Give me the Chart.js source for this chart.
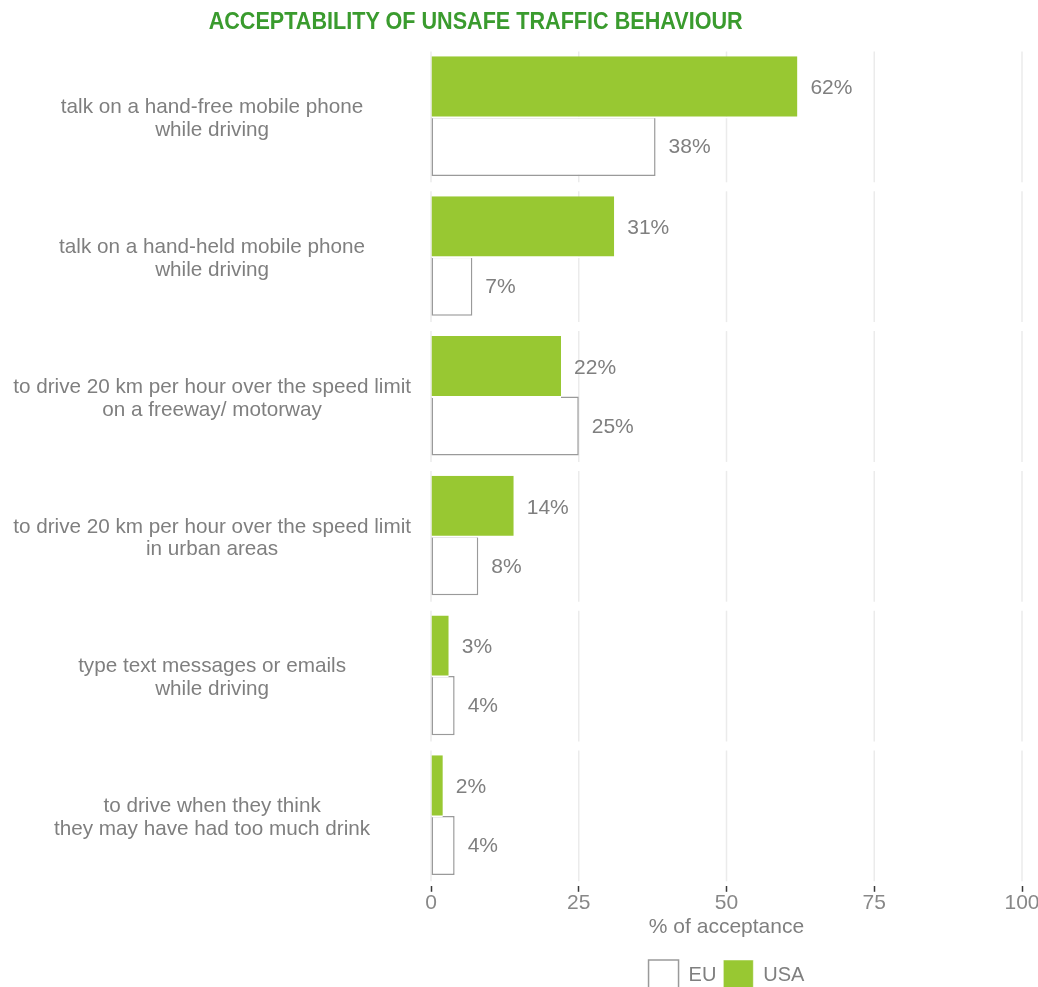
<!DOCTYPE html>
<html>
<head>
<meta charset="utf-8">
<script src="https://cdn.jsdelivr.net/npm/chart.js@4.4.1/dist/chart.umd.min.js"></script>
<style>
  html, body { margin: 0; padding: 0; background: #ffffff; overflow: hidden; }
  #wrap { position: absolute; left: 0; top: 0; width: 1060px; height: 1000px; }
  #title {
    position: absolute; left: 0; top: 7px; width: 952px; text-align: center;
    z-index: 2; white-space: nowrap;
  }
  #title span {
    display: inline-block;
    font-family: "Liberation Sans", Arial, sans-serif;
    font-weight: bold; font-size: 24px; color: #3a9b2e;
    transform: scaleX(0.9); transform-origin: center;
  }
</style>
</head>
<body>
<div id="wrap">
  <canvas id="c" width="1060" height="1000"></canvas>
</div>
<div id="title"><span>ACCEPTABILITY OF UNSAFE TRAFFIC BEHAVIOUR</span></div>
<script>
// Behaviours surveyed (multi-line labels)
const behaviours = [
  ["talk on a hand-free mobile phone", "while driving"],
  ["talk on a hand-held mobile phone", "while driving"],
  ["to drive 20 km per hour over the speed limit", "on a freeway/ motorway"],
  ["to drive 20 km per hour over the speed limit", "in urban areas"],
  ["type text messages or emails", "while driving"],
  ["to drive when they think", "they may have had too much drink"]
];
// Share of respondents finding each behaviour acceptable (%)
const usaValues = [62, 31, 22, 14, 3, 2];
const euValues  = [38, 7, 25, 8, 4, 4];
const xTicks = [0, 25, 50, 75, 100];

const GREEN = '#98c832';
const GREY_TEXT = '#7f7f7f';
const FONT = '"Liberation Sans", Arial, sans-serif';

// Vertical grid lines drawn per category band, leaving a gap between bands
const bandGrid = {
  id: 'bandGrid',
  beforeDatasetsDraw(chart) {
    const { ctx, scales: { x, y } } = chart;
    const n = behaviours.length;
    const step = y.getPixelForValue(1) - y.getPixelForValue(0);
    const half = step * (131 / 140) / 2;
    ctx.save();
    ctx.strokeStyle = '#ebebeb';
    ctx.lineWidth = 1.5;
    for (let i = 0; i < n; i++) {
      const cy = y.getPixelForValue(i);
      xTicks.forEach(v => {
        const px = x.getPixelForValue(v);
        ctx.beginPath();
        ctx.moveTo(px, cy - half);
        ctx.lineTo(px, cy + half);
        ctx.stroke();
      });
    }
    ctx.restore();
  }
};

// Percentage labels to the right of each bar
const valueLabels = {
  id: 'valueLabels',
  afterDatasetsDraw(chart) {
    const { ctx } = chart;
    ctx.save();
    ctx.font = '21px ' + FONT;
    ctx.fillStyle = GREY_TEXT;
    ctx.textAlign = 'left';
    ctx.textBaseline = 'middle';
    chart.data.datasets.forEach((ds, di) => {
      const meta = chart.getDatasetMeta(di);
      meta.data.forEach((el, i) => {
        ctx.fillText(ds.data[i] + '%', el.x + 13, el.y + 1);
      });
    });
    ctx.restore();
  }
};

new Chart(document.getElementById('c'), {
  type: 'bar',
  data: {
    labels: behaviours,
    datasets: [
      {
        label: 'USA',
        data: usaValues,
        backgroundColor: GREEN,
        borderColor: '#ffffff',
        borderWidth: { top: 0, right: 0, bottom: 2, left: 0 },
        borderSkipped: false,
        barPercentage: 1.051,
        categoryPercentage: 0.845
      },
      {
        label: 'EU',
        data: euValues,
        backgroundColor: '#ffffff',
        borderColor: '#9a9a9a',
        borderWidth: 1.5,
        borderSkipped: false,
        barPercentage: 1,
        categoryPercentage: 0.845
      }
    ]
  },
  options: {
    indexAxis: 'y',
    responsive: false,
    animation: false,
    devicePixelRatio: 1,
    layout: { padding: { top: 47, right: 38, left: 0, bottom: 0 } },
    scales: {
      x: {
        min: 0, max: 100,
        afterBuildTicks(scale) { scale.ticks = xTicks.map(v => ({ value: v })); },
        grid: { drawOnChartArea: false, tickLength: 6, tickColor: '#3a3a3a', tickWidth: 1.5 },
        border: { display: false },
        ticks: { font: { family: FONT, size: 21, lineHeight: 1.0 }, color: '#888888', padding: 1 },
        title: {
          display: true, text: '% of acceptance',
          font: { family: FONT, size: 21 }, color: '#7f7f7f',
          padding: { top: 0, bottom: 13 }
        }
      },
      y: {
        afterFit(scale) { scale.width = 431; },
        grid: { display: false, drawTicks: false },
        border: { display: false },
        ticks: {
          font: { family: FONT, size: 20.7, lineHeight: 1.1 },
          color: GREY_TEXT, crossAlign: 'center', padding: 20, labelOffset: 2
        }
      }
    },
    plugins: {
      title: { display: false },
      tooltip: { enabled: false },
      legend: {
        position: 'bottom',
        fullSize: false,
        labels: {
          boxWidth: 30, boxHeight: 30, padding: 7,
          font: { family: FONT, size: 20 }, color: '#7f7f7f',
          sort: (a, b) => b.datasetIndex - a.datasetIndex
        }
      }
    }
  },
  plugins: [bandGrid, valueLabels]
});
</script>
</body>
</html>
